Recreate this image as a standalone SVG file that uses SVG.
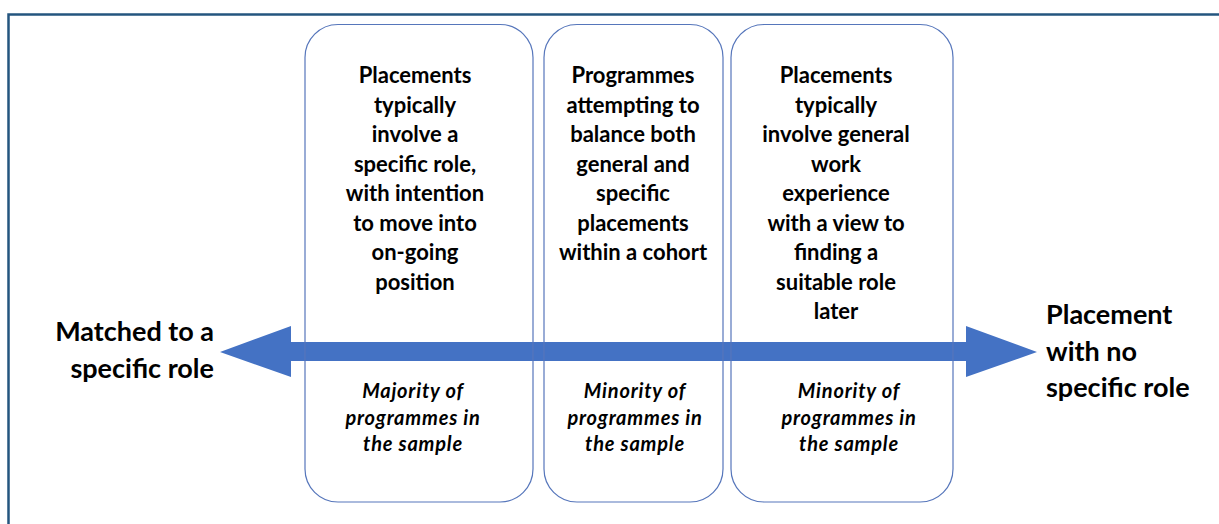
<svg xmlns="http://www.w3.org/2000/svg" width="1219" height="524" viewBox="0 0 1219 524">
<style>
.b{font-family:Lato,"Open Sans","Liberation Sans",sans-serif;font-weight:bold;font-size:22px;fill:#000;text-anchor:middle}
.i{font-family:Lato,"Open Sans","Liberation Sans",sans-serif;font-style:italic;font-weight:bold;font-size:20px;letter-spacing:0.8px;fill:#000;text-anchor:middle}
.s{font-family:Lato,"Open Sans","Liberation Sans",sans-serif;font-weight:bold;font-size:27px;fill:#000}
.box{fill:none;stroke:#5676bb;stroke-width:1.2}
</style>
<rect width="1219" height="524" fill="#fff"/>
<rect x="8.5" y="14.5" width="1230" height="530" fill="none" stroke="#24557f" stroke-width="2.5"/>
<g id="connectors">
<path d="M220 352 L291 326 L291 342 L966 342 L966 326 L1037 352 L966 377 L966 361 L291 361 L291 377 Z" fill="#4472c4"/>
</g>
<g id="box1">
<rect class="box" x="305" y="24.5" width="228" height="477.5" rx="33" ry="33"/>
<text class="b" x="415" y="83">Placements</text>
<text class="b" x="415" y="112.5">typically</text>
<text class="b" x="415" y="142">involve a</text>
<text class="b" x="415" y="171.5">specific role,</text>
<text class="b" x="415" y="201">with intention</text>
<text class="b" x="415" y="230.5">to move into</text>
<text class="b" x="415" y="260">on-going</text>
<text class="b" x="415" y="289.5">position</text>
<text class="i" x="413" y="398">Majority of</text>
<text class="i" x="413" y="424.5">programmes in</text>
<text class="i" x="413" y="451">the sample</text>
</g>
<g id="box2">
<rect class="box" x="544" y="24.5" width="179" height="477.5" rx="33" ry="33"/>
<text class="b" x="633" y="83">Programmes</text>
<text class="b" x="633" y="112.5">attempting to</text>
<text class="b" x="633" y="142">balance both</text>
<text class="b" x="633" y="171.5">general and</text>
<text class="b" x="633" y="201">specific</text>
<text class="b" x="633" y="230.5">placements</text>
<text class="b" x="633" y="260">within a cohort</text>
<text class="i" x="635" y="398">Minority of</text>
<text class="i" x="635" y="424.5">programmes in</text>
<text class="i" x="635" y="451">the sample</text>
</g>
<g id="box3">
<rect class="box" x="731" y="24.5" width="222" height="477.5" rx="33" ry="33"/>
<text class="b" x="836" y="83">Placements</text>
<text class="b" x="836" y="112.5">typically</text>
<text class="b" x="836" y="142">involve general</text>
<text class="b" x="836" y="171.5">work</text>
<text class="b" x="836" y="201">experience</text>
<text class="b" x="836" y="230.5">with a view to</text>
<text class="b" x="836" y="260">finding a</text>
<text class="b" x="836" y="289.5">suitable role</text>
<text class="b" x="836" y="319">later</text>
<text class="i" x="849" y="398">Minority of</text>
<text class="i" x="849" y="424.5">programmes in</text>
<text class="i" x="849" y="451">the sample</text>
</g>
<g id="left-label">
<text class="s" x="214" y="341" text-anchor="end">Matched to a</text>
<text class="s" x="214" y="378" text-anchor="end">specific role</text>
</g>
<g id="right-label">
<text class="s" x="1046" y="324">Placement</text>
<text class="s" x="1046" y="361">with no</text>
<text class="s" x="1046" y="397">specific role</text>
</g>
</svg>
